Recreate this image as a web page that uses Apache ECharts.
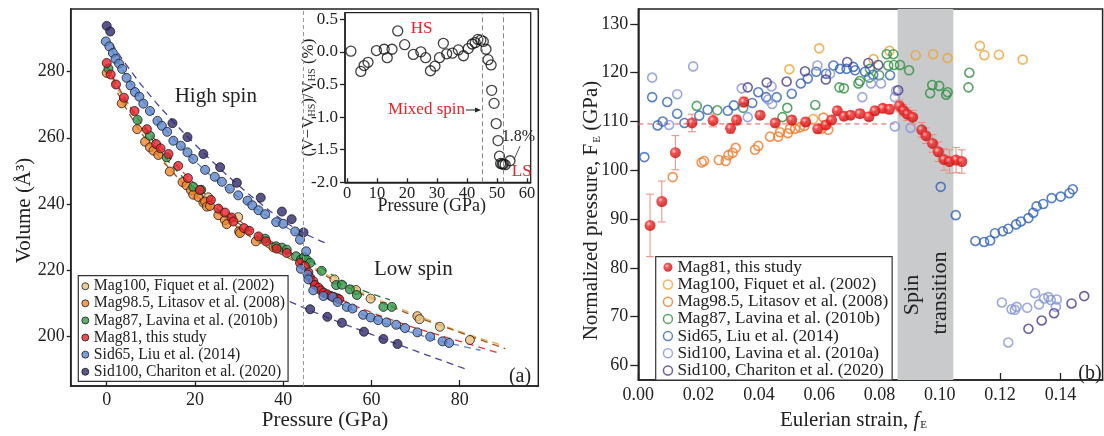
<!DOCTYPE html>
<html><head><meta charset="utf-8">
<script src="https://cdn.jsdelivr.net/npm/echarts@6/dist/echarts.min.js"></script>
<style>html,body{margin:0;padding:0;background:#fff}#c{width:1104px;height:436px}</style>
</head><body><div id="c"></div>
<script>
const FONT = "'Liberation Serif','Times New Roman','DejaVu Serif',serif";

// ---------- Panel (a): unit-cell volume vs pressure ----------
const aTicksX = [0, 20, 40, 60, 80];
const aTicksY = [200, 220, 240, 260, 280];
const spinOnsetP = 44.6;

const mag100V = [[23,242],[29.8,236],[51.6,217.2],[56.5,214],[59.8,211.4],[70.4,206.1],[70.9,205.2],[75.5,202.9],[82.3,198.9]];
const mag985V = [[0,279.6],[3.4,270.4],[6.9,262.6],[8.7,258.8],[9.8,257.1],[10.6,256.1],[11.7,254.8],[14.3,249.8],[17.2,246.6],[18.1,245.6],[19.1,244.1],[19.6,242.8],[20.8,242.1],[21.9,240.4],[22.3,240.7],[22.7,239.2],[23.4,239.4],[25.3,236.6],[26.8,235.1],[27.2,233.9],[30,231.7],[30.2,231.2],[33.8,228.7],[37.8,226.9]];
const mag87V = [[0.4,280.9],[7,265.4],[9.8,260.6],[13.6,254.1],[19.6,245.2],[21.4,244.3],[35.9,229.5],[38.4,227.2],[39.7,226.8],[40.8,226.2],[42.9,224.2],[44,223.2],[44.7,223.9],[45.3,223.2],[46.1,222.2],[48.7,219.8],[52,215.5],[53.3,215.6],[55.1,214.2],[56.7,212.5],[62.7,208.9],[64.6,208.9]];
const mag81V = [[0,282.6],[0.9,279.1],[2.1,276.1],[3.9,272.1],[6.3,268.1],[9.1,262.6],[11.2,258.1],[12.2,256.8],[14,255.1],[16.2,251.5],[18.4,247.8],[21.1,244.2],[23.6,241.2],[25.3,238.6],[26.8,237.4],[28.3,235.9],[28.7,234.7],[31.1,232.7],[32.3,231.9],[34.4,230.2],[36.1,228.7],[38.5,226.5],[40.8,225.2],[43.8,222.2],[44.9,221.2],[45.7,219.3],[46.1,217.7],[46.8,216.7],[47.2,215.5],[48,214.7],[48.5,213.9],[49.2,213.2],[50,212.7],[50.8,212.2],[51.5,211.9],[52.3,211.5],[52.7,211.2]];
const sid65V = [[-0.2,289.1],[0.6,287.6],[1.4,285.6],[2.0,283.8],[2.8,282.4],[3.5,280.8],[4.5,278.1],[5.4,275.8],[6.4,273.8],[7.4,272.4],[8.3,270.3],[9.8,268.1],[11.5,265.1],[12.5,263.6],[13.7,261.8],[15.1,259.1],[16.8,257.6],[18.3,255.6],[19.6,253.6],[22.3,250.3],[24.5,248.2],[26.1,246.7],[27.9,244.6],[29.8,242.6],[31.9,241],[33,239.6],[34.4,238.1],[35.9,236.9],[38.4,234.5],[40,234],[42.7,231.7],[43.8,229.2],[45.2,225.7],[44,220.4],[45.5,218.7],[45.7,217.2],[46.8,213.9],[49.1,212.2],[51.2,211.9],[52.3,210.4],[54.4,208.9],[55.7,208.4],[58.1,206.5],[59.8,205.7],[61.5,204.9],[63.4,204.2],[65.6,203.5],[67.6,202.5],[70.4,201.2],[73.3,199.9],[76.1,198.5],[77.6,198]];
const sid100V = [[0,293.8],[0.8,292.1],[14.9,264.4],[18.3,260.2],[21.9,255.1],[25.7,251.1],[29.5,246.4],[34.9,241.9],[39.7,237.7],[41.9,235.4],[44.6,231.4],[46.1,208.2],[50,205.9],[53.3,204.1],[58.3,201.4],[62.7,199.2],[65.9,197.7]];

// fitted equation-of-state curves
const fitMag100 = [[0,281],[10,258.5],[20,243],[30,233],[40,225],[45,222.2]];
const fitMag100LS = [[45,222.5],[50,218.5],[55,215],[60,212],[70,206.5],[80,201.5],[89.9,197.2]];
const fitMag985 = [[0,280],[5,267.5],[10,257.5],[15,249.5],[20,243],[25,237.5],[30,232.5],[35,228],[40,224.5],[45,221]];
const fitMag985LS = [[45,222],[50,218],[55,214.5],[60,211.5],[65,208.7],[70,206],[75,203.6],[80,201.2],[85,198.8],[90.3,196.3]];
const fitMag87 = [[0,281.5],[10,260],[20,244.5],[30,234],[40,226.2],[45,223.5]];
const fitMag87LS = [[44,225],[50,219.5],[56,215],[64.2,211]];
const fitMag81 = [[0,282],[5,270],[10,261],[15,253],[20,246],[25,240],[30,235],[35,230.5],[40,226.5],[45,222.5]];
const fitMag81LS = [[45,220],[50,213.5],[55,210],[60,207.2],[65,204.8],[70,202.5],[75,200.5],[80,198.5],[88.7,195]];
const fitSid65 = [[1,287],[5,277.5],[10,268],[15,260],[20,253],[25,247],[30,242],[35,237.5],[40,233.5],[45,229.5]];
const fitSid65LS = [[46,216],[50,212],[55,208.5],[60,205.5],[65,203],[70,200.8],[75,198.8],[80,197.2],[84.7,195.8]];
const fitSid100 = [[1.1,288.6],[5,281],[10,272.5],[15,265],[20,258],[25,251.5],[30,245.5],[35,240],[40,235],[45,231],[50,228]];
const fitSid100LS = [[41.5,210.5],[50,205.7],[60,200.6],[70,195.6],[81.6,190]];

// ---------- Inset: volume deviation ----------
const insetTicksX = [0, 10, 20, 30, 40, 50, 60];
const insetTicksY = [-2.0, -1.5, -1.0, -0.5, 0.0, 0.5];
const insetP = [1.3,5.7,4.6,7.0,9.8,12.4,13.4,15.0,16.9,19.2,22.1,24.6,26.2,27.8,29.3,30.8,32.1,33.2,35.1,37.1,38.8,40.4,41.7,42.7,43.6,44.6,45.4,46.3,47.0,48.0,48.2,49.0,49.7,50.3,50.8,51.2,51.7,52.1,52.7,54.3];
const insetDev = [0.01,-0.21,-0.30,-0.16,0.02,0.04,-0.09,0.04,0.32,0.11,-0.04,0.0,-0.09,-0.29,-0.22,-0.09,0.13,-0.03,-0.02,0.03,-0.06,0.05,0.12,0.14,0.19,0.18,0.16,0.04,-0.12,-0.20,-0.59,-0.79,-1.10,-1.36,-1.60,-1.71,-1.72,-1.72,-1.73,-1.67];
const insetBounds = [44.9, 52.1];

// ---------- Panel (b): normalized pressure vs Eulerian strain ----------
const bTicksX = [0, 0.02, 0.04, 0.06, 0.08, 0.10, 0.12, 0.14];
const bTicksY = [60, 70, 80, 90, 100, 110, 120, 130];
const spinBand = [0.086, 0.1045];
const mag81Ref = [[0, 109.5], [0.085, 109.5]];
const mag81F = [[0.0039,88.7,6.4],[0.0078,93.6,4.2],[0.0123,103.6,3.5],[0.0178,109.7,1.8],[0.0248,110.2,1.3],[0.0306,108.6,1],[0.0326,110.3,1],[0.035,114.0,1],[0.0404,111.3,0.8],[0.0454,109.7,0.8],[0.0509,110.3,0.8],[0.0555,109.9,0.8],[0.0595,108.5,0.8],[0.0622,109.3,0.8],[0.0641,110.3,0.8],[0.066,112.2,0.8],[0.0682,111.1,0.8],[0.0704,111.3,0.8],[0.0735,111.6,0.8],[0.0765,111.0,0.8],[0.0785,112.2,0.8],[0.0811,112.7,0.8],[0.0833,112.5,0.9],[0.0866,113.2,1.2],[0.0879,112.3,1.2],[0.0892,111.5,1.3],[0.091,110.9,1.4],[0.094,108.3,1.5],[0.0954,107.1,1.6],[0.0976,105.5,1.8],[0.0995,103.8,2],[0.1014,102.2,2.2],[0.1032,101.8,2.4],[0.1054,102.1,2.6],[0.1073,101.8,2.4]];
const mag100F = [[0.0501,120.7],[0.06,125.0],[0.058,110.5],[0.078,122.8],[0.0833,124.5],[0.092,123.6],[0.0978,123.8],[0.1026,123.0],[0.1133,125.5],[0.1148,123.6],[0.1196,123.7],[0.1275,122.7]];
const mag985F = [[0.0114,98.6],[0.021,101.6],[0.0218,101.9],[0.0267,102.1],[0.029,101.9],[0.0299,103.1],[0.0313,103.6],[0.0323,104.6],[0.0387,104.2],[0.0398,105.0],[0.0437,106.9],[0.0464,106.9],[0.047,107.8],[0.0496,107.6],[0.0503,108.5],[0.052,108.5],[0.0536,108.8],[0.0551,109.1],[0.0608,108.5],[0.0614,110.8],[0.063,108.3]];
const mag87F = [[0.0194,113.2],[0.0262,112.3],[0.0348,112.8],[0.0478,110.9],[0.0494,112.8],[0.0587,113.4],[0.0667,117.0],[0.0682,116.8],[0.073,117.8],[0.0735,118.3],[0.0766,119.0],[0.0768,120.8],[0.0799,119.5],[0.0824,123.8],[0.0846,123.8],[0.0829,121.5],[0.0848,121.6],[0.0868,121.6],[0.0898,120.5],[0.0968,115.8],[0.0975,117.5],[0.0998,117.3],[0.1021,115.5],[0.1026,116.0],[0.1095,117.0],[0.1098,120.0]];
const sid65F = [[0.002,102.7],[0.0046,115.0],[0.0064,109.2],[0.0081,110.0],[0.0096,114.0],[0.0129,111.6],[0.0153,109.7],[0.0202,111.2],[0.023,112.4],[0.0297,112.2],[0.0317,113.3],[0.0378,113.8],[0.0398,116.0],[0.0424,115.0],[0.0459,115.0],[0.0509,115.7],[0.0539,117.8],[0.0562,118.8],[0.059,120.2],[0.0623,119.8],[0.0647,121.5],[0.0669,120.8],[0.0691,120.8],[0.0713,121.2],[0.0719,120.5],[0.0752,120.2],[0.0779,119.6],[0.0835,119.5],[0.1003,96.6],[0.1053,90.8],[0.1118,85.5],[0.1147,85.3],[0.1167,85.6],[0.1183,87.1],[0.1209,87.5],[0.1227,88.0],[0.1253,88.9],[0.1269,89.5],[0.1294,90.2],[0.131,91.3],[0.1321,92.6],[0.1343,93.1],[0.1371,94.3],[0.1401,94.6],[0.143,95.3],[0.1441,96.1]];
const sid100LF = [[0.0046,119.0],[0.0102,109.3],[0.0129,115.6],[0.0182,121.3],[0.0343,116.8],[0.0363,110.9],[0.0431,114.5],[0.0444,113.6],[0.0442,117.2],[0.0594,121.5],[0.0636,119.8],[0.0743,115.0],[0.0772,117.8],[0.0805,117.8],[0.0851,115.0],[0.0855,116.3],[0.0851,109.0],[0.0903,108.7],[0.1206,72.9],[0.1227,64.7],[0.1238,71.5],[0.1249,71.4],[0.1255,72.0],[0.129,71.8],[0.1316,74.8],[0.1329,72.5],[0.1346,73.7],[0.136,74.0],[0.1368,73.4],[0.1388,73.5],[0.1385,72.0]];
const sid100CF = [[0.0363,117.0],[0.0426,118.0],[0.0492,118.2],[0.0553,120.3],[0.0622,118.6],[0.0693,122.2],[0.0763,122.0],[0.0796,121.6],[0.0862,116.4],[0.1294,67.5],[0.1338,69.2],[0.1379,70.7],[0.1437,72.7],[0.1479,74.2]];

const N_MAG100 = 'Mag100, Fiquet et al. (2002)';
const N_MAG985 = 'Mag98.5, Litasov et al. (2008)';
const N_MAG87 = 'Mag87, Lavina et al. (2010b)';
const N_MAG81 = 'Mag81, this study';
const N_SID65 = 'Sid65, Liu et al. (2014)';
const N_SID100L = 'Sid100, Lavina et al. (2010a)';
const N_SID100C = 'Sid100, Chariton et al. (2020)';

const C = {
  mag100: '#e9c07a', mag985: '#f0842a', mag87: '#2f9a4c', mag81: '#e8202a', sid65: '#5a86d0', sid100: '#2e2a6e'
};
const CL = { mag100: '#e8ac55', mag985: '#a0561e', mag87: '#2a7a34', mag81: '#e83535', sid65: '#5a86d0', sid100: '#4b43a8' };
const CB = { mag100: '#f0a232', mag985: '#f07a2a', mag87: '#2e8f40', sid65: '#2f62b8', sid100L: '#8595d8', sid100C: '#4a3a8c' };
const redBall = { type: 'radial', x: 0.38, y: 0.35, r: 0.65, colorStops: [
  { offset: 0, color: '#ffc8c8' }, { offset: 0.35, color: '#f22a2a' }, { offset: 1, color: '#c40c0c' } ] };

const AX = '#222';

function filled(name, data, color) {
  return { type: 'scatter', name, xAxisIndex: 0, yAxisIndex: 0, data, symbol: 'circle', symbolSize: 9,
    itemStyle: { color, borderColor: '#1b1b1b', borderWidth: 1 }, z: 3, silent: true };
}
function fit(data, color) {
  return { type: 'line', xAxisIndex: 0, yAxisIndex: 0, data, smooth: true, showSymbol: false, symbol: 'none',
    lineStyle: { color, width: 1.3, type: [7, 5] }, z: 1, silent: true };
}
function ring(name, data, color) {
  return { type: 'scatter', name, xAxisIndex: 2, yAxisIndex: 2, data, symbol: 'circle', symbolSize: 9,
    itemStyle: { color: 'rgba(255,255,255,0)', borderColor: color, borderWidth: 1.6 }, z: 3, silent: true };
}
function valueAxis(grid, min, max, ticks, o) {
  return Object.assign({
    gridIndex: grid, type: 'value', min, max, nameMoveOverlap: false,
    axisLine: { show: true, onZero: false, lineStyle: { color: AX, width: 1.5 } },
    axisTick: { show: true, customValues: ticks, inside: o.inside, length: o.tickLen, lineStyle: { color: AX, width: 1.3 } },
    axisLabel: { customValues: ticks, margin: o.margin, fontFamily: FONT, fontSize: o.fs, color: '#222',
      formatter: o.fmt || (v => String(v)) },
    splitLine: { show: false }
  }, o.extra || {});
}
function label(text, x, y, size, extra) {
  return Object.assign({ type: 'text', x, y, z: 100,
    style: Object.assign({ text, fontFamily: FONT, fill: '#222', fontSize: size, textAlign: 'center', textVerticalAlign: 'middle' },
      (extra && extra.style) || {}) }, extra && extra.rotation ? { rotation: extra.rotation } : {});
}

const option = {
  animation: false,
  backgroundColor: '#fff',
  grid: [
    { left: 70.7, top: 9, width: 467.6, height: 380, show: true, borderColor: AX, borderWidth: 1.5, backgroundColor: 'transparent' },
    { left: 345, top: 12.7, width: 185.7, height: 169.6, show: true, borderColor: AX, borderWidth: 1.3, backgroundColor: 'transparent' },
    { left: 638.3, top: 9, width: 464.3, height: 379.3, show: true, borderColor: AX, borderWidth: 1.5, backgroundColor: 'transparent' }
  ],
  xAxis: [
    valueAxis(0, -8.16, 97.8, aTicksX, { inside: true, tickLen: 6, margin: 5, fs: 18, extra: {
      name: 'Pressure (GPa)', nameLocation: 'middle', nameGap: 24,
      nameTextStyle: { fontFamily: FONT, fontSize: 21, color: '#222', padding: [0, 0, 0, 41] } } }),
    valueAxis(1, -0.67, 61.2, insetTicksX, { inside: true, tickLen: 4, margin: 3, fs: 16.5, extra: {
      name: 'Pressure (GPa)', nameLocation: 'middle', nameGap: 15,
      nameTextStyle: { fontFamily: FONT, fontSize: 18, color: '#222', padding: [0, 12, 0, 0] } } }),
    valueAxis(2, 0, 0.154, bTicksX, { inside: true, tickLen: 7, margin: 6, fs: 18, fmt: v => v.toFixed(2), extra: {
      name: 'Eulerian strain, {it|f}{sub|E}', nameLocation: 'middle', nameGap: 30,
      nameTextStyle: { fontFamily: FONT, fontSize: 21, color: '#222', padding: [0, 34, 0, 0],
        rich: { it: { fontFamily: FONT, fontSize: 21, fontStyle: 'italic', color: '#222' },
                sub: { fontFamily: FONT, fontSize: 11, color: '#222', verticalAlign: 'bottom', padding: [9, 0, 0, 1] } } } } })
  ],
  yAxis: [
    valueAxis(0, 185, 298.9, aTicksY, { inside: false, tickLen: 4, margin: 6, fs: 18, extra: {
      name: 'Volume (Å³)', nameLocation: 'middle', nameGap: 36,
      nameTextStyle: { fontFamily: FONT, fontSize: 21, color: '#222', padding: [0, 26, 0, 0] } } }),
    valueAxis(1, -2.0, 0.6, insetTicksY, { inside: false, tickLen: 5, margin: 7, fs: 17, fmt: v => v.toFixed(1), extra: {
      name: '(V−V{sub|HS})/V{sub|HS} (%)', nameLocation: 'middle', nameGap: 28,
      nameTextStyle: { fontFamily: FONT, fontSize: 17, color: '#222',
        rich: { sub: { fontFamily: FONT, fontSize: 10, color: '#222', verticalAlign: 'bottom', padding: [7, 0, 0, 0] } } } } }),
    valueAxis(2, 57, 133.07, bTicksY, { inside: false, tickLen: 8, margin: 10, fs: 18, extra: {
      name: 'Normalized pressure, F{sub|E} (GPa)', nameLocation: 'middle', nameGap: 36,
      nameTextStyle: { fontFamily: FONT, fontSize: 21, color: '#222', padding: [0, 32, 0, 0],
        rich: { sub: { fontFamily: FONT, fontSize: 11, color: '#222', verticalAlign: 'bottom', padding: [9, 0, 0, 1] } } } } })
  ],
  legend: [
    { left: 78.3, top: 275.7, orient: 'vertical', itemGap: 0, itemWidth: 7, itemHeight: 7, padding: [2, 3, 1, 3],
      borderColor: '#333', borderWidth: 1.2, backgroundColor: '#fff', selectedMode: false,
      textStyle: { fontFamily: FONT, fontSize: 15.7, color: '#222', lineHeight: 17.1 },
      data: [
        { name: N_MAG100, icon: 'circle', itemStyle: { color: C.mag100, borderColor: '#1b1b1b', borderWidth: 1 } },
        { name: N_MAG985, icon: 'circle', itemStyle: { color: C.mag985, borderColor: '#1b1b1b', borderWidth: 1 } },
        { name: N_MAG87, icon: 'circle', itemStyle: { color: C.mag87, borderColor: '#1b1b1b', borderWidth: 1 } },
        { name: N_MAG81, icon: 'circle', itemStyle: { color: C.mag81, borderColor: '#1b1b1b', borderWidth: 1 } },
        { name: N_SID65, icon: 'circle', itemStyle: { color: C.sid65, borderColor: '#1b1b1b', borderWidth: 1 } },
        { name: N_SID100C, icon: 'circle', itemStyle: { color: C.sid100, borderColor: '#1b1b1b', borderWidth: 1 } }
      ] },
    { left: 655.7, top: 256.7, orient: 'vertical', itemGap: 0, itemWidth: 9, itemHeight: 9, padding: [2, 4, 1, 7],
      borderColor: '#333', borderWidth: 1.2, backgroundColor: '#fff', selectedMode: false,
      textStyle: { fontFamily: FONT, fontSize: 17.3, color: '#222', lineHeight: 17.2 },
      data: [
        { name: N_MAG81, icon: 'circle', itemStyle: { color: redBall, borderWidth: 0 } },
        { name: N_MAG100, icon: 'circle', itemStyle: { color: '#fff', borderColor: CB.mag100, borderWidth: 1.5 } },
        { name: N_MAG985, icon: 'circle', itemStyle: { color: '#fff', borderColor: CB.mag985, borderWidth: 1.5 } },
        { name: N_MAG87, icon: 'circle', itemStyle: { color: '#fff', borderColor: CB.mag87, borderWidth: 1.5 } },
        { name: N_SID65, icon: 'circle', itemStyle: { color: '#fff', borderColor: CB.sid65, borderWidth: 1.5 } },
        { name: N_SID100L, icon: 'circle', itemStyle: { color: '#fff', borderColor: CB.sid100L, borderWidth: 1.5 } },
        { name: N_SID100C, icon: 'circle', itemStyle: { color: '#fff', borderColor: CB.sid100C, borderWidth: 1.5 } }
      ] }
  ],
  series: [
    // panel (a) fits
    Object.assign(fit(fitMag100, CL.mag100), { markLine: { silent: true, symbol: 'none', label: { show: false },
      lineStyle: { color: '#9a9a9a', type: [4, 3], width: 1 }, data: [{ xAxis: spinOnsetP }] } }),
    fit(fitMag100LS, CL.mag100),
    fit(fitMag985, CL.mag985), fit(fitMag985LS, CL.mag985),
    fit(fitMag87, CL.mag87), fit(fitMag87LS, CL.mag87),
    fit(fitMag81, CL.mag81), fit(fitMag81LS, CL.mag81),
    fit(fitSid65, CL.sid65), fit(fitSid65LS, CL.sid65),
    fit(fitSid100, CL.sid100), fit(fitSid100LS, CL.sid100),
    // panel (a) data
    filled(N_MAG100, mag100V, C.mag100),
    filled(N_MAG985, mag985V, C.mag985),
    filled(N_MAG87, mag87V, C.mag87),
    filled(N_MAG81, mag81V, C.mag81),
    filled(N_SID65, sid65V, C.sid65),
    filled(N_SID100C, sid100V, C.sid100),
    // inset
    { type: 'scatter', xAxisIndex: 1, yAxisIndex: 1, data: insetP.map((p, i) => [p, insetDev[i]]),
      symbol: 'circle', symbolSize: 10, silent: true, z: 3,
      itemStyle: { color: 'rgba(255,255,255,0)', borderColor: '#111', borderWidth: 1.3 },
      markLine: { silent: true, symbol: 'none', label: { show: false },
        lineStyle: { color: '#8a8a8a', type: [5, 3], width: 1 }, data: insetBounds.map(b => ({ xAxis: b })) } },
    // panel (b)
    { type: 'line', xAxisIndex: 2, yAxisIndex: 2, data: mag81Ref, showSymbol: false, symbol: 'none', silent: true, z: 1,
      lineStyle: { color: '#ee5555', width: 1, type: [5, 4] },
      markArea: { silent: true, itemStyle: { color: '#c9cacc' },
        data: [[{ xAxis: spinBand[0] }, { xAxis: spinBand[1] }]] } },
    ring(N_MAG100, mag100F, CB.mag100),
    ring(N_MAG985, mag985F, CB.mag985),
    ring(N_MAG87, mag87F, CB.mag87),
    ring(N_SID65, sid65F, CB.sid65),
    ring(N_SID100L, sid100LF, CB.sid100L),
    ring(N_SID100C, sid100CF, CB.sid100C),
    { type: 'custom', xAxisIndex: 2, yAxisIndex: 2, data: mag81F, encode: { x: 0, y: 1 }, silent: true, z: 4,
      renderItem: function (params, api) {
        const x = api.value(0), y = api.value(1), e = api.value(2);
        const top = api.coord([x, y + e]), bot = api.coord([x, y - e]);
        const w = 4, st = { stroke: '#f08a80', lineWidth: 1 };
        return { type: 'group', children: [
          { type: 'line', shape: { x1: top[0], y1: top[1], x2: bot[0], y2: bot[1] }, style: st },
          { type: 'line', shape: { x1: top[0] - w, y1: top[1], x2: top[0] + w, y2: top[1] }, style: st },
          { type: 'line', shape: { x1: bot[0] - w, y1: bot[1], x2: bot[0] + w, y2: bot[1] }, style: st }
        ] };
      } },
    { type: 'scatter', name: N_MAG81, xAxisIndex: 2, yAxisIndex: 2, data: mag81F.map(d => [d[0], d[1]]),
      symbol: 'circle', symbolSize: 11, silent: true, z: 5, itemStyle: { color: redBall } }
  ],
  graphic: [
    label('High spin', 215.8, 96.7, 21),
    label('Low spin', 413.3, 269, 21),
    label('(a)', 520, 377, 20),
    label('(b)', 1090, 373.3, 20),
    label('HS', 421.7, 28.3, 17, { style: { fill: '#e8202a' } }),
    label('Mixed spin', 465, 110, 17, { style: { fill: '#e8202a', textAlign: 'right' } }),
    { type: 'line', z: 100, shape: { x1: 466, y1: 110, x2: 477, y2: 110 }, style: { stroke: '#222', lineWidth: 1 } },
    { type: 'polygon', z: 100, shape: { points: [[481, 110], [475, 107.6], [475, 112.4]] }, style: { fill: '#222' } },
    label('LS', 521.7, 171.5, 17, { style: { fill: '#e8202a' } }),
    label('1.8%', 518.3, 136.7, 16),
    { type: 'line', z: 100, shape: { x1: 520, y1: 146, x2: 514, y2: 159.5 }, style: { stroke: '#222', lineWidth: 0.8 } },
    label('Spin', 912.7, 295, 22, { rotation: Math.PI / 2 }),
    label('transition', 940.7, 293, 22, { rotation: Math.PI / 2 })
  ]
};

const chart = echarts.init(document.getElementById('c'), null, { renderer: 'canvas' });
chart.setOption(option);
</script>
</body></html>
